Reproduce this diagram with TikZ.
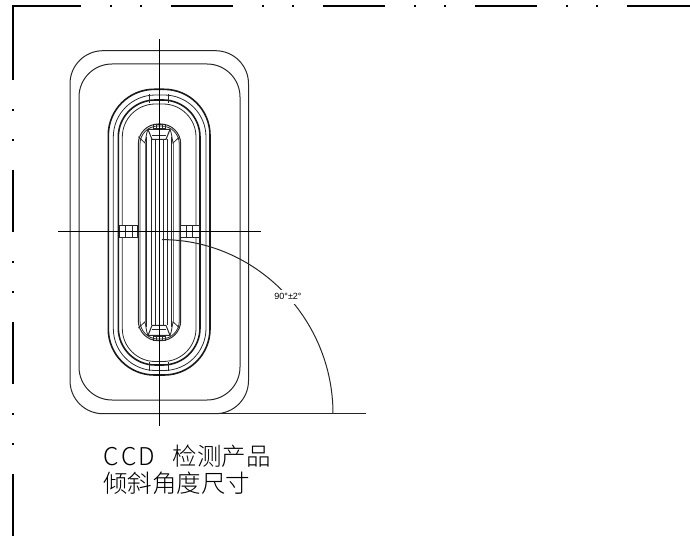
\documentclass[tikz,border=0pt]{standalone}
\usepackage{fontspec}
\setmainfont{Liberation Sans}
\newfontfamily\cjk[UprightFont=* Light]{Noto Sans CJK SC}
\tikzset{
  thinline/.style={line width=0.8pt,black!85},
  thickline/.style={line width=1.6pt,black!90},
  midline/.style={line width=1pt,black!85},
  frameline/.style={line width=1.7pt,black},
  frametick/.style={line width=1.3pt,black},
}
\begin{document}
\begin{tikzpicture}[x=1pt,y=-1pt]
    \useasboundingbox (0,0) rectangle (690,545);
    % sheet frame
    \draw[frameline] (13,80)--(13,6)--(81,6);
    \foreach \x in {171,323,475} \draw[frameline] (\x,6)--++(62,0);
    \draw[frameline] (627,6)--(690,6);
    \foreach \x in {111,141,263,293,415,445,567,597} \draw[frametick] (\x,5.4)--++(0,1.2);
    \foreach \y in {170,322,474} \draw[frameline] (13,\y)--++(0,62);
    \foreach \y in {110,140,262,292,414,444} \draw[frametick] (12.4,\y)--++(1.2,0);
    % outer body
    \draw[midline,rounded corners=33] (70,50.7) rectangle (248.5,413.7);
    \draw[midline,rounded corners=33] (79,64) rectangle (240,400);
    % rings
    \draw[thickline,rounded corners=46] (108.3,89.3) rectangle (210,375);
    \draw[thinline,rounded corners=42] (113.3,95) rectangle (206,370.5);
    \draw[thickline,rounded corners=37] (118.3,100) rectangle (200,365);
    \draw[thinline,rounded corners=33] (122.3,104) rectangle (196,361.5);
    % inner pocket
    \draw[midline,rounded corners=20] (138.3,124) rectangle (180.7,340.7);
    \draw[thinline,rounded corners=18] (140,126) rectangle (179.3,339);
    % top and bottom parts of the pocket
    \foreach \s in {1,-1}{
    \begin{scope}[shift={(159,232.4)},yscale=\s]
        \draw[thinline] (-9.5,-138.4) -- (-9.5,-129.7) (9.5,-138.4) -- (9.5,-129.7);
        \draw[thinline] (-6,-108.4) rectangle (6,-104);
        \draw[thinline] (-3,-108.4) -- (-3,-104) (3,-108.4) -- (3,-104);
        \draw[midline] (-11,-103) -- (11,-103) -- (7,-93) -- (-7,-93) -- cycle;
        \draw[thinline] (-7,-97) -- (7,-97);
        \foreach \m in {1,-1}{
            \draw[thinline] (\m*20.7,-95.7) -- (\m*14,-89.4) -- (\m*12.3,-99) -- (\m*11,-103);
            \draw[thinline] (\m*8,-93) -- (\m*8,0);
            \draw[thinline] (\m*4,-93) -- (\m*4,0);
            \draw[midline,black!60] (\m*14,-89.4) -- (\m*14,0);
            \draw[thinline] (\m*12.3,-95) -- (\m*12.3,0);
        }
    \end{scope}}
    % side tabs
    \foreach \x in {119.5,180.7}
        \draw[midline,fill=white] (\x,225.7) rectangle ++(18.4,12.3);
    \foreach \x in {125.7,132.3,186.3,192}
        \draw[thinline] (\x,225.7) -- (\x,238);
    % centre lines
    \draw[midline,black] (58,231.7) -- (260.7,231.7);
    \draw[midline,black] (159,39) -- (159,425.7);
    % angle
    \coordinate (arcstart) at (162,239.6);
    \coordinate (arcend) at (333,413.7);
    \coordinate (baseleft) at (160,413.7);
    \coordinate (baseright) at (365.7,413.7);
    \draw[midline] (baseleft) -- (baseright);
    \draw[midline] (arcstart) .. controls (255,239.7) and (333,317.7) .. (arcend);
    \node[fill=white,inner xsep=0.5pt,inner ysep=4pt,font=\fontsize{9}{9}\selectfont] (angletext) at (288,296.7) {90°±2°};
    % caption
    \node[anchor=west,inner sep=0pt,font=\fontsize{24.5}{24.5}\selectfont\cjk] (captionone) at (103,456.5) {C\hspace{2.5pt}C\hspace{2.5pt}D\hspace{17.5pt}检测产品};
    \node[anchor=west,inner sep=0pt,font=\fontsize{24.5}{24.5}\selectfont\cjk] (captiontwo) at (103,483.5) {倾斜角度尺寸};
\end{tikzpicture}
\end{document}
